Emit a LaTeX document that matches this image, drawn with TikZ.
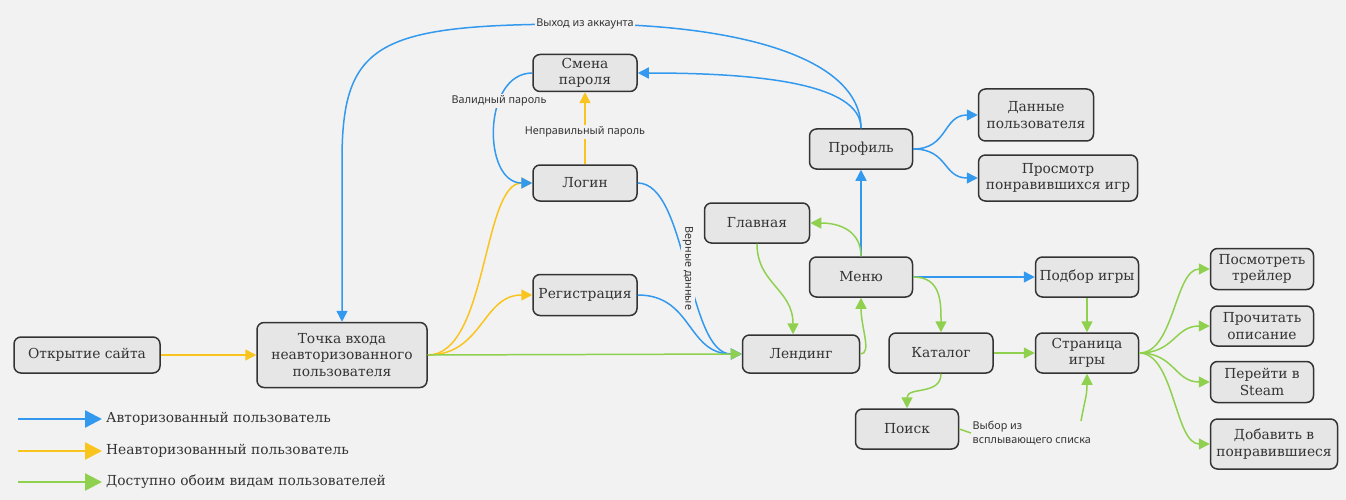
\documentclass[tikz,border=0pt]{standalone}
\usepackage{fontspec}
\setmainfont{DejaVu Serif}
\newfontfamily\lblfam{Noto Sans}
\usetikzlibrary{arrows.meta}
\definecolor{bgc}{HTML}{F2F2F2}
\definecolor{boxc}{HTML}{E6E6E6}
\definecolor{edgec}{HTML}{333333}
\definecolor{txtc}{HTML}{333333}
\definecolor{blu}{HTML}{3399EE}
\definecolor{yel}{HTML}{FAC41E}
\definecolor{grn}{HTML}{8FD14F}
\newcommand{\nodefnt}{\fontsize{13.8pt}{16.5pt}\selectfont}
\newcommand{\lblfnt}{\lblfam\fontsize{10.8pt}{14pt}\selectfont}
\tikzset{
  box/.style={draw=edgec, line width=1.5pt, fill=boxc, rounded corners=7pt, align=center,
    font=\nodefnt, text=txtc, inner sep=1pt},
  lbl/.style={font=\lblfnt, text=txtc, fill=bgc, inner sep=1.5pt, align=center},
  legtxt/.style={font=\nodefnt, text=txtc, inner sep=4pt, anchor=west},
  con/.style={line width=1.5pt},
  tip/.style={-{Triangle[length=11pt,width=11pt]}},
  bigtip/.style={-{Triangle[length=17pt,width=17pt]}},
  bl/.style={con, draw=blu, tip},
  yl/.style={con, draw=yel, tip},
  gr/.style={con, draw=grn, tip}
}
\begin{document}
\begin{tikzpicture}[x=1pt,y=-1pt]
\useasboundingbox[fill=bgc] (0,0) rectangle (1346,500);

% nodes
\node[box, minimum width=146, minimum height=36] (open) at (87,355) {Открытие сайта};
\node[box, minimum width=170, minimum height=65] (entry) at (342,355) {Точка входа\\неавторизованного\\пользователя};
\node[box, minimum width=104, minimum height=37] (smena) at (585,73) {Смена\\пароля};
\node[box, minimum width=104, minimum height=36] (login) at (585,183) {Логин};
\node[box, minimum width=104, minimum height=41] (reg) at (585,295) {Регистрация};
\node[box, minimum width=117, minimum height=38] (lend) at (801,354) {Лендинг};
\node[box, minimum width=105, minimum height=40] (glav) at (757,223) {Главная};
\node[box, minimum width=103, minimum height=40] (menu) at (861,277) {Меню};
\node[box, minimum width=103, minimum height=40] (prof) at (861,149) {Профиль};
\node[box, minimum width=115, minimum height=52] (dann) at (1036,115) {Данные\\пользователя};
\node[box, minimum width=159, minimum height=46] (prosm) at (1058,178) {Просмотр\\понравившихся игр};
\node[box, minimum width=103, minimum height=40] (podbor) at (1087,277) {Подбор игры};
\node[box, minimum width=104, minimum height=40] (kat) at (941,353) {Каталог};
\node[box, minimum width=103, minimum height=40] (str) at (1087,353) {Страница\\игры};
\node[box, minimum width=103, minimum height=40] (poisk) at (907,429) {Поиск};
\node[box, minimum width=103, minimum height=41] (tr) at (1262,269) {Посмотреть\\трейлер};
\node[box, minimum width=103, minimum height=40] (op) at (1262,326) {Прочитать\\описание};
\node[box, minimum width=103, minimum height=41] (st) at (1262,382) {Перейти в\\Steam};
\node[box, minimum width=127, minimum height=50] (fav) at (1274,444) {Добавить в\\понравившиеся};

% yellow
\draw[yl] (open) -- (entry);
\draw[yl] (entry.east) .. controls +(60,0) and +(-50,0) .. (login.west);
\draw[yl] (entry.east) .. controls +(55,0) and +(-50,0) .. (reg.west);
\draw[yl] (login.north) -- node[lbl, pos=0.45] {Неправильный пароль} (smena.south);

% blue
\draw[bl] (smena.west) .. controls +(-50,0) and +(-50,0) .. node[lbl, pos=0.33] {Валидный пароль} (login.west);
\draw[bl] (login.east) .. controls +(50,0) and +(-55,0) .. node[lbl, pos=0.5, rotate=-90] {Верные данные} (lend.west);
\draw[bl] (reg.east) .. controls +(55,0) and +(-55,0) .. (lend.west);
\draw[bl] (menu.north) -- (prof.south);
\draw[bl] (prof.north) .. controls +(0,-45) and +(120,0) .. (smena.east);
\coordinate (exitTop) at (585,24);
\draw[con, draw=blu] (prof.north) .. controls +(0,-75) and +(140,0) .. (exitTop);
\draw[bl] (exitTop) .. controls (380,24) and (342,40) .. (342,160) -- (entry.north);
\node[lbl] (exitlbl) at (exitTop) {Выход из аккаунта};
\draw[bl] (prof.east) .. controls +(35,0) and +(-35,0) .. (dann.west);
\draw[bl] (prof.east) .. controls +(35,0) and +(-35,0) .. (prosm.west);
\draw[bl] (menu.east) -- (podbor.west);

% green
\draw[gr] (entry.east) -- (lend.west);
\draw[gr] (glav.south) .. controls +(0,40) and +(0,-45) .. ([xshift=-8pt]lend.north);
\draw[gr] (lend.east) .. controls +(12,0) and +(0,30) .. (menu.south);
\draw[gr] (menu.north) .. controls +(0,-25) and +(30,0) .. (glav.east);
\draw[gr] (menu.east) .. controls +(28,0) and +(0,-30) .. (kat.north);
\draw[gr] (podbor.south) -- (str.north);
\draw[gr] (kat.east) -- (str.west);
\draw[gr] (kat.south) .. controls +(0,22) and +(0,-22) .. (poisk.north);
\node[lbl, align=left, anchor=west] (vybor) at (971,433) {Выбор из\\всплывающего списка};
\draw[con, draw=grn] (poisk.east) -- (vybor.west);
\coordinate (vyborUp) at (1081,421);
\draw[gr] (vyborUp) .. controls +(4,-22) and +(0,22) .. (str.south);
\draw[gr] (str.east) .. controls +(35,0) and +(-35,0) .. (tr.west);
\draw[gr] (str.east) .. controls +(35,0) and +(-35,0) .. (op.west);
\draw[gr] (str.east) .. controls +(35,0) and +(-35,0) .. (st.west);
\draw[gr] (str.east) .. controls +(35,0) and +(-35,0) .. (fav.west);

% legend
\coordinate (lga) at (18,419);
\coordinate (lgb) at (18,451);
\coordinate (lgc) at (18,482);
\node[legtxt] (lg1) at (102,419) {Авторизованный пользователь};
\node[legtxt] (lg2) at (102,451) {Неавторизованный пользователь};
\node[legtxt] (lg3) at (102,482) {Доступно обоим видам пользователей};
\draw[con, draw=blu, bigtip, line width=2.5pt] (lga) -- (lg1.west);
\draw[con, draw=yel, bigtip, line width=2.5pt] (lgb) -- (lg2.west);
\draw[con, draw=grn, bigtip, line width=2.5pt] (lgc) -- (lg3.west);
\end{tikzpicture}
\end{document}
